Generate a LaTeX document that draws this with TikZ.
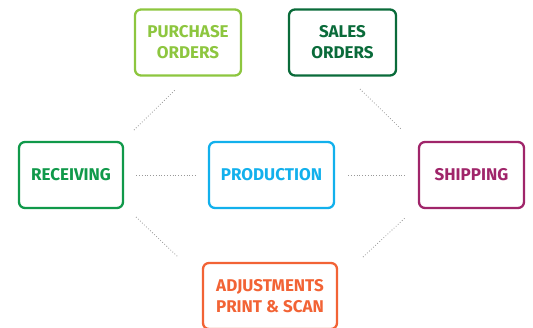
\documentclass[tikz,border=0pt]{standalone}
\usepackage{fontspec}
\setmainfont{Fira Sans}
\definecolor{cPO}{HTML}{8DC63F}
\definecolor{cSO}{HTML}{0A6B3A}
\definecolor{cRE}{HTML}{10994A}
\definecolor{cPR}{HTML}{12B0EC}
\definecolor{cSH}{HTML}{A0256A}
\definecolor{cAD}{HTML}{F26335}
\begin{document}
\begin{tikzpicture}[x=1pt,y=-1pt,
  box/.style={draw, line width=2.3pt, rounded corners=6pt, align=center,
    font=\bfseries\fontsize{17}{21}\selectfont, inner sep=0pt},
  conn/.style={draw=gray!80, dotted, line width=0.8pt}]
\useasboundingbox (0,0) rectangle (533,327);
\node[box, draw=cPO, text=cPO, minimum width=106pt, minimum height=66pt] (po) at (188,42.5) {PURCHASE\\ORDERS};
\node[box, draw=cSO, text=cSO, minimum width=107pt, minimum height=66pt] (so) at (342.5,42.5) {SALES\\ORDERS};
\node[box, draw=cRE, text=cRE, minimum width=104pt, minimum height=66pt] (rec) at (71,175) {RECEIVING};
\node[box, draw=cPR, text=cPR, minimum width=125pt, minimum height=66pt] (prod) at (271.5,175) {PRODUCTION};
\node[box, draw=cSH, text=cSH, minimum width=105pt, minimum height=66pt] (ship) at (471.5,175) {SHIPPING};
\node[box, draw=cAD, text=cAD, minimum width=134pt, minimum height=66pt] (adj) at (270,296) {ADJUSTMENTS\\PRINT \& SCAN};
\coordinate (a1) at (134,130); \coordinate (a2) at (175,90);
\coordinate (b1) at (360,89);  \coordinate (b2) at (402,130);
\coordinate (c1) at (136,217); \coordinate (c2) at (178,257);
\coordinate (d1) at (363,257); \coordinate (d2) at (406,217);
\draw[conn, shorten <=12pt, shorten >=12pt] (rec) -- (prod);
\draw[conn, shorten <=13pt, shorten >=11pt] (prod) -- (ship);
\draw[conn] (a1) -- (a2);
\draw[conn] (b1) -- (b2);
\draw[conn] (c1) -- (c2);
\draw[conn] (d1) -- (d2);
\end{tikzpicture}
\end{document}
